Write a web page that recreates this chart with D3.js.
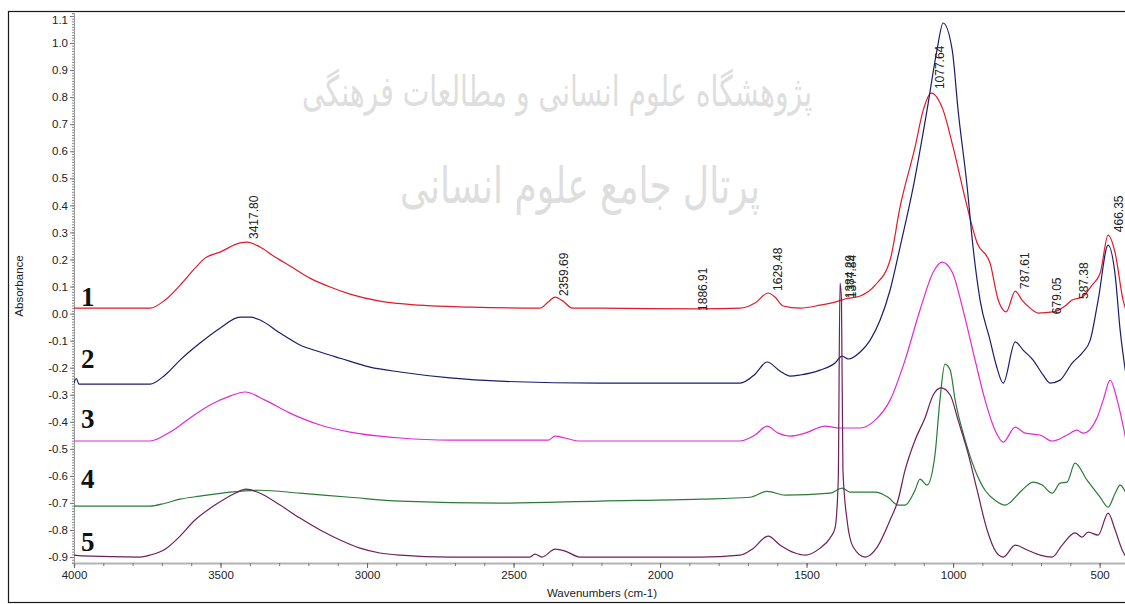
<!DOCTYPE html>
<html><head><meta charset="utf-8">
<script src="https://cdn.jsdelivr.net/npm/d3@7/dist/d3.min.js"></script>
<style>body{margin:0;background:#fff}svg{display:block}</style>
</head><body><svg id="c" width="1125" height="604"></svg>
<script>
const seriesNames = ["1","2","3","4","5"];
const seriesColors = ["#e01a2b","#1c1c6c","#e02ad6","#2b7a38","#6e1f5c"];
const seriesLabelAbs = [0.028,-0.201,-0.423,-0.645,-0.878];

const spectrum1 = [[4000,0.020],[3741,0.020],[3689,0.050],[3638,0.105],[3587,0.168],[3553,0.205],[3502,0.227],[3433,0.261],[3410,0.264],[3365,0.246],[3314,0.209],[3263,0.176],[3195,0.131],[3126,0.098],[3058,0.072],[2956,0.046],[2819,0.031],[2648,0.024],[2410,0.020],[2382,0.043],[2358,0.061],[2331,0.046],[2300,0.020],[2205,0.020],[1863,0.017],[1727,0.020],[1676,0.039],[1631,0.076],[1608,0.061],[1580,0.028],[1522,0.020],[1454,0.031],[1392,0.046],[1369,0.054],[1317,0.065],[1266,0.105],[1215,0.198],[1181,0.394],[1130,0.615],[1102,0.752],[1075,0.815],[1034,0.752],[1000,0.615],[952,0.394],[918,0.261],[874,0.187],[846,0.050],[829,0.013],[819,0.006],[788,0.083],[765,0.050],[737,0.020],[710,0.002],[659,0.006],[618,0.028],[594,0.050],[560,0.061],[526,0.105],[498,0.150],[471,0.290],[447,0.224],[420,0.050],[410,0.013]];

const spectrum2 = [[4000,-0.257],[3992,-0.240],[3983,-0.261],[3741,-0.261],[3689,-0.227],[3638,-0.172],[3570,-0.109],[3502,-0.054],[3433,-0.013],[3399,-0.013],[3365,-0.024],[3297,-0.072],[3229,-0.116],[3160,-0.142],[3092,-0.165],[2990,-0.198],[2887,-0.216],[2717,-0.238],[2546,-0.250],[2205,-0.257],[1727,-0.257],[1676,-0.224],[1635,-0.179],[1590,-0.213],[1556,-0.231],[1522,-0.227],[1454,-0.209],[1403,-0.183],[1379,-0.157],[1358,-0.168],[1317,-0.142],[1283,-0.098],[1249,-0.024],[1215,0.087],[1181,0.246],[1136,0.468],[1089,0.752],[1055,0.974],[1034,1.074],[1003,0.974],[983,0.752],[952,0.468],[932,0.246],[908,0.050],[874,-0.098],[853,-0.190],[829,-0.257],[788,-0.105],[761,-0.135],[727,-0.172],[693,-0.227],[669,-0.257],[635,-0.246],[594,-0.183],[560,-0.146],[532,-0.098],[505,0.050],[471,0.253],[447,0.142],[430,-0.061],[410,-0.227]];

const spectrum3 = [[4000,-0.471],[3741,-0.471],[3672,-0.438],[3604,-0.386],[3536,-0.338],[3468,-0.305],[3416,-0.290],[3348,-0.320],[3263,-0.368],[3160,-0.412],[3058,-0.438],[2887,-0.460],[2717,-0.468],[2382,-0.468],[2358,-0.453],[2324,-0.460],[2280,-0.471],[1727,-0.471],[1676,-0.449],[1635,-0.416],[1597,-0.442],[1556,-0.453],[1505,-0.442],[1437,-0.416],[1386,-0.423],[1317,-0.423],[1266,-0.394],[1215,-0.320],[1164,-0.172],[1113,0.013],[1068,0.153],[1038,0.190],[1003,0.153],[966,0.013],[925,-0.172],[891,-0.320],[857,-0.431],[829,-0.475],[788,-0.420],[754,-0.442],[703,-0.449],[662,-0.471],[611,-0.449],[577,-0.431],[556,-0.442],[508,-0.383],[488,-0.320],[464,-0.246],[440,-0.320],[410,-0.468]];

const spectrum4 = [[4000,-0.712],[3741,-0.712],[3689,-0.701],[3638,-0.686],[3570,-0.675],[3468,-0.660],[3365,-0.653],[3229,-0.664],[3058,-0.679],[2887,-0.693],[2546,-0.701],[2205,-0.693],[1863,-0.686],[1693,-0.679],[1635,-0.657],[1573,-0.671],[1420,-0.664],[1379,-0.645],[1352,-0.660],[1266,-0.660],[1222,-0.679],[1188,-0.708],[1164,-0.708],[1130,-0.653],[1113,-0.612],[1089,-0.634],[1062,-0.523],[1045,-0.320],[1028,-0.187],[1010,-0.209],[993,-0.320],[959,-0.468],[925,-0.579],[891,-0.653],[857,-0.690],[822,-0.708],[765,-0.653],[727,-0.623],[696,-0.634],[662,-0.664],[635,-0.627],[611,-0.623],[584,-0.553],[543,-0.616],[498,-0.679],[471,-0.716],[447,-0.664],[430,-0.634],[410,-0.664]];

const spectrum5 = [[4000,-0.893],[3973,-0.896],[3775,-0.900],[3741,-0.893],[3689,-0.871],[3645,-0.830],[3587,-0.763],[3519,-0.708],[3450,-0.664],[3413,-0.649],[3365,-0.664],[3297,-0.708],[3229,-0.756],[3160,-0.800],[3092,-0.837],[3024,-0.867],[2956,-0.885],[2887,-0.893],[2717,-0.900],[2444,-0.900],[2427,-0.889],[2403,-0.900],[2358,-0.871],[2324,-0.878],[2273,-0.900],[1863,-0.900],[1727,-0.893],[1686,-0.871],[1631,-0.823],[1590,-0.856],[1539,-0.885],[1505,-0.893],[1454,-0.867],[1420,-0.830],[1403,-0.793],[1392,-0.616],[1386,0.113],[1381,0.050],[1376,-0.579],[1362,-0.763],[1341,-0.863],[1300,-0.900],[1259,-0.863],[1215,-0.763],[1188,-0.690],[1164,-0.579],[1130,-0.468],[1096,-0.386],[1068,-0.301],[1041,-0.275],[1010,-0.301],[983,-0.394],[952,-0.505],[918,-0.653],[884,-0.800],[853,-0.882],[829,-0.900],[788,-0.856],[747,-0.874],[703,-0.893],[662,-0.900],[628,-0.856],[584,-0.811],[560,-0.826],[539,-0.808],[505,-0.819],[471,-0.738],[447,-0.800],[423,-0.874],[410,-0.900]];

const spectra = [spectrum1, spectrum2, spectrum3, spectrum4, spectrum5];

const peakLabels = ["3417.80","2359.69","1886.91","1629.48","1384.29","1377.84","1077.64","787.61","679.05","587.38","466.35"];
const peakWavenumbers = [3417.80,2359.69,1886.91,1629.48,1384.29,1377.84,1077.64,787.61,679.05,587.38,466.35];
const peakLabelAbs = [0.272,0.061,0.006,0.080,0.053,0.053,0.826,0.087,-0.006,0.050,0.297];

const xTicks = [4000,3500,3000,2500,2000,1500,1000,500];
const yTicks = [1.1,1.0,0.9,0.8,0.7,0.6,0.5,0.4,0.3,0.2,0.1,0.0,-0.1,-0.2,-0.3,-0.4,-0.5,-0.6,-0.7,-0.8,-0.9];
const xTitle = "Wavenumbers (cm-1)";
const yTitle = "Absorbance";
const watermark = ["پژوهشگاه علوم انسانی و مطالعات فرهنگی","پرتال جامع علوم انسانی"];

const svg = d3.select("#c");
const W = 1125, H = 604;
const mLeft = 74, mRight = 1126, mTop = 13, mBottom = 563;
const x = d3.scaleLinear().domain([4000, 410]).range([mLeft, mRight]);
const y = d3.scaleLinear().domain([-0.922, 1.111]).range([mBottom, mTop]);

svg.append("rect").attr("width", W).attr("height", H).attr("fill", "#fff");

// watermark
const wm = svg.append("g").attr("fill", "#dedede").attr("font-family", "DejaVu Sans, Noto Sans, sans-serif");
wm.append("text").attr("x", 557).attr("y", 106).attr("text-anchor", "middle").attr("font-size", 42)
  .attr("textLength", 510).attr("lengthAdjust", "spacingAndGlyphs").text(watermark[0]);
wm.append("text").attr("x", 580).attr("y", 203).attr("text-anchor", "middle").attr("font-size", 50)
  .attr("textLength", 360).attr("lengthAdjust", "spacingAndGlyphs").text(watermark[1]);

// frame
svg.append("rect").attr("x", 8.5).attr("y", 11.5).attr("width", 1130).attr("height", 591)
  .attr("fill", "none").attr("stroke", "#1a1a1a").attr("stroke-width", 1.2);

const font = "Liberation Sans, Arial, sans-serif";

// x axis minor
const gxm = svg.append("g").attr("transform", `translate(0,${mBottom})`)
  .call(d3.axisBottom(x).tickValues(d3.range(4000, 400, -100)).tickSize(3).tickFormat(""));
gxm.select(".domain").attr("stroke", "#b4b4b4").attr("stroke-width", 2);
gxm.selectAll(".tick line").attr("stroke", "#777");
const gx = svg.append("g").attr("transform", `translate(0,${mBottom})`)
  .call(d3.axisBottom(x).tickValues(xTicks).tickSize(5).tickPadding(3).tickFormat(d => String(d)));
gx.select(".domain").remove();
gx.selectAll(".tick line").attr("stroke", "#666");
gx.selectAll("text").attr("font-family", font).attr("font-size", 11.5).attr("fill", "#222");

// y axis
const gym = svg.append("g").attr("transform", `translate(${mLeft},0)`)
  .call(d3.axisLeft(y).tickValues(d3.range(-92, 112, 1).map(d => d / 100)).tickSize(2).tickFormat(""));
gym.select(".domain").attr("stroke", "#999");
gym.selectAll(".tick line").attr("stroke", "#888");
const gy = svg.append("g").attr("transform", `translate(${mLeft},0)`)
  .call(d3.axisLeft(y).tickValues(yTicks).tickSize(4).tickPadding(2).tickFormat(d => d.toFixed(1)));
gy.select(".domain").remove();
gy.selectAll(".tick line").attr("stroke", "#777");
gy.selectAll("text").attr("font-family", font).attr("font-size", 11.5).attr("fill", "#222");
gy.selectAll(".tick").filter(d => d > 1.05).select("text").attr("dy", "0.65em");

svg.append("text").attr("x", 602).attr("y", 597).attr("text-anchor", "middle")
  .attr("font-family", font).attr("font-size", 11.5).attr("fill", "#222").text(xTitle);
svg.append("text").attr("transform", "translate(23,286) rotate(-90)").attr("text-anchor", "middle")
  .attr("font-family", font).attr("font-size", 11.5).attr("fill", "#222").text(yTitle);

// clip
svg.append("clipPath").attr("id", "plot").append("rect")
  .attr("x", mLeft).attr("y", mTop).attr("width", mRight - mLeft).attr("height", mBottom - mTop);

const line = d3.line().x(d => x(d[0])).y(d => y(d[1])).curve(d3.curveMonotoneX);
const gl = svg.append("g").attr("clip-path", "url(#plot)");
spectra.forEach((s, i) => {
  gl.append("path").datum(s).attr("d", line).attr("fill", "none")
    .attr("stroke", seriesColors[i]).attr("stroke-width", 1.2).attr("stroke-linejoin", "round");
});

// series numbers
seriesNames.forEach((n, i) => {
  svg.append("text").attr("x", 81).attr("y", y(seriesLabelAbs[i]))
    .attr("font-family", "Liberation Serif, Times New Roman, serif").attr("font-weight", "bold")
    .attr("font-size", 27).attr("fill", "#111").text(n);
});

// peak labels
peakLabels.forEach((t, i) => {
  const px = x(peakWavenumbers[i]) + 13.5, py = y(peakLabelAbs[i]) - 1;
  svg.append("text").attr("transform", `translate(${px},${py}) rotate(-90)`)
    .attr("font-family", font).attr("font-size", 12).attr("fill", "#222").text(t);
});
</script></body></html>
